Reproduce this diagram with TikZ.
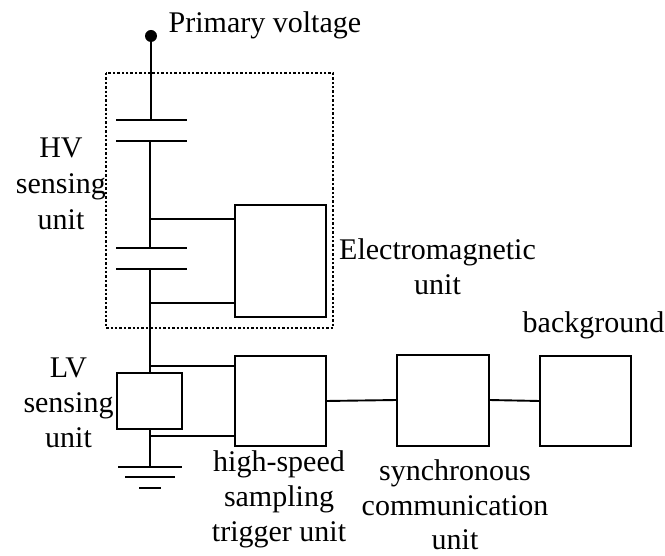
\documentclass[tikz,border=0pt]{standalone}
\usepackage{fontspec}
\setmainfont{Liberation Serif}
\begin{document}
\begin{tikzpicture}[x=1pt,y=-1pt,line width=1.4pt,
 lab/.style={inner sep=0pt,font=\fontsize{30}{36}\selectfont,align=center,anchor=center},
 labt/.style={inner sep=0pt,font=\fontsize{30}{35}\selectfont,align=center,anchor=center},
 labs/.style={inner sep=0pt,font=\fontsize{30}{34.5}\selectfont,align=center,anchor=center},
 unitbox/.style={draw,line width=1.9pt,inner sep=0,outer sep=0,anchor=north west},
 link/.style={line width=1.9pt}]
\useasboundingbox (0,0) rectangle (665,556);
\draw[line width=1.3pt,dash pattern=on 2.4pt off 2pt] (106,73) rectangle (333,328);
\fill (151,36) circle (6);
\coordinate (t) at (151,36);
\node[unitbox,minimum width=91,minimum height=112] (em) at (235,205) {};
\node[unitbox,minimum width=91,minimum height=90] (hs) at (235,356) {};
\node[unitbox,minimum width=92,minimum height=91] (sc) at (397,355) {};
\node[unitbox,minimum width=91,minimum height=90] (bg) at (540,356) {};
\node[unitbox,minimum width=65,minimum height=56] (lv) at (117,373) {};
\coordinate (c1a) at (151,120); \coordinate (c1b) at (150,141);
\coordinate (c2a) at (150,248); \coordinate (c2b) at (150,269);
\draw (t) -- (c1a);
\draw (116,120) -- (187,120);
\draw (116,141) -- (187,141);
\draw (c1b) -- (c2a);
\draw (116,248) -- (187,248);
\draw (116,269) -- (187,269);
\draw (c2b) -- (150,373);
\draw (150,429) -- (150,467);
\draw (150,219) -- (235,219);
\draw (150,303) -- (235,303);
\draw (150,366) -- (235,366);
\draw (150,436) -- (235,436);
\draw[link] (hs.east |- 0,401) -- (sc.west |- 0,400);
\draw[link] (sc.east |- 0,400) -- (bg.west |- 0,401);
\draw (118,467) -- (182,467);
\draw (125,477) -- (175,477);
\draw (139,488) -- (161,488);
\node[lab,anchor=west] (pv) at (168,25) {Primary voltage};
\node[lab] (hv) at (61,184) {HV\\sensing\\unit};
\node[labt] (eu) at (437.5,267) {Electromagnetic\\unit};
\node[lab] (bgl) at (593.5,325) {background};
\node[labt] (lvl) at (68.5,403) {LV\\sensing\\unit};
\node[labt] (hsl) at (279,499) {high-speed\\sampling\\trigger unit};
\node[labs] (scl) at (455,505) {synchronous\\communication\\unit};
\end{tikzpicture}
\end{document}
